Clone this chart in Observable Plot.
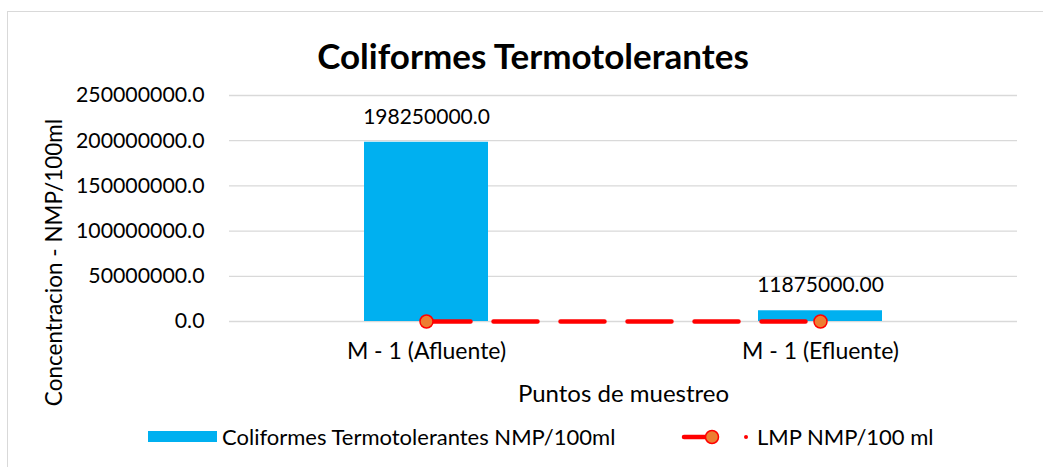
<!DOCTYPE html>
<html>
<head>
<meta charset="utf-8">
<script src="https://cdn.jsdelivr.net/npm/d3@7"></script>
<script src="https://cdn.jsdelivr.net/npm/@observablehq/plot@0.6"></script>
<style>
  html, body { margin: 0; padding: 0; background: #fff; }
  #wrap { position: relative; width: 1043px; height: 467px; overflow: hidden; background: #fff; font-family: Lato, sans-serif; color: #000; }
  #frame { position: absolute; left: 7px; top: 11px; width: 1100px; height: 600px; border: 1px solid #d9d9d9; box-sizing: border-box; }
  #title { position: absolute; left: 0; top: 34px; width: 1066px; text-align: center; font-weight: bold; font-size: 35px; line-height: 42px; }
  #chart { position: absolute; left: 0; top: 80px; }
  .leg { position: absolute; font-size: 22px; line-height: 24px; white-space: nowrap; }
  .sw { position: absolute; }
</style>
</head>
<body>
<div id="wrap">
  <div id="frame"></div>
  <div id="title">Coliformes Termotolerantes</div>
  <div id="chart"></div>
  <svg class="sw" style="left:148px;top:431px" width="70" height="12"><rect x="0" y="0" width="69" height="11" fill="#00b0f0"></rect></svg>
  <div class="leg" id="leg1" style="left:222px;top:425px">Coliformes Termotolerantes NMP/100ml</div>
  <svg class="sw" style="left:675px;top:425px" width="80" height="24">
    <line x1="9" y1="12" x2="40" y2="12" stroke="#ff0000" stroke-width="4.5" stroke-linecap="round"></line>
    <circle cx="37" cy="12" r="6.5" fill="#ed7d31" stroke="#ff0000" stroke-width="1.5"></circle>
    <circle cx="71" cy="12" r="2" fill="#ff0000"></circle>
  </svg>
  <div class="leg" id="leg2" style="left:757px;top:425px">LMP NMP/100 ml</div>
</div>
<script>
const categories = ["M - 1 (Afluente)", "M - 1 (Efluente)"];
const coliformes = [198250000, 11875000];
const valueLabels = ["198250000.0", "11875000.00"];
const lmp = [1000, 1000];
const yTicks = [0, 50000000, 100000000, 150000000, 200000000, 250000000];
const xTitle = "Puntos de muestreo";
const yTitle = "Concentracion - NMP/100ml";

const data = categories.map((c, i) => ({cat: c, value: coliformes[i], label: valueLabels[i], lmp: lmp[i]}));

const chart = Plot.plot({
  width: 1043,
  height: 325,
  marginLeft: 229,
  marginRight: 26,
  marginTop: 15,
  marginBottom: 84,
  style: {fontFamily: "Lato, sans-serif", fontSize: "21px", color: "#000", background: "transparent", overflow: "visible"},
  x: {type: "band", domain: categories, paddingInner: 0.685, paddingOuter: 0.3425, align: 0.5},
  y: {domain: [0, 250000000]},
  marks: [
    Plot.gridY(yTicks, {stroke: "#d9d9d9", strokeOpacity: 1, strokeWidth: 1.3}),
    Plot.axisY(yTicks, {tickSize: 0, tickPadding: 25, tickFormat: d => d.toFixed(1), label: null, fontSize: 21.3}),
    Plot.axisX({tickSize: 0, tickPadding: 21, label: null, fontSize: 23}),
    Plot.barY(data, {x: "cat", y: "value", fill: "#00b0f0"}),
    Plot.lineY(data, {x: "cat", y: "lmp", stroke: "#ff0000", strokeWidth: 4.5, strokeDasharray: "44,23", strokeLinecap: "round"}),
    Plot.dot(data, {x: "cat", y: "lmp", r: 6.5, fill: "#ed7d31", stroke: "#ff0000", strokeWidth: 1.5}),
    Plot.text(data, {x: "cat", y: "value", text: "label", dy: -25, lineAnchor: "middle", fontSize: 21}),
    Plot.text([xTitle], {frameAnchor: "bottom", dy: 73, lineAnchor: "middle", fontSize: 24}),
    Plot.text([yTitle], {frameAnchor: "left", dx: -175, dy: 54, rotate: -90, textAnchor: "middle", lineAnchor: "middle", fontSize: 22.5})
  ]
});
document.getElementById("chart").appendChild(chart);
</script>
</body>
</html>
